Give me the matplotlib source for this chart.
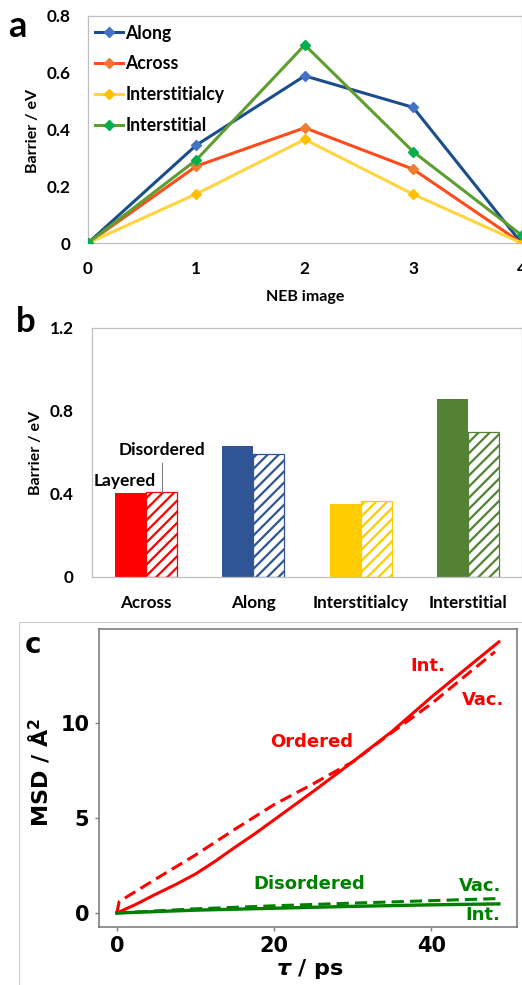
import matplotlib
matplotlib.use("Agg")
import matplotlib.pyplot as plt
from matplotlib.lines import Line2D

# ---------------- data ----------------
# panel a : NEB profiles
neb_images = [0, 1, 2, 3, 4]
neb_along = [0.0, 0.345, 0.589, 0.478, 0.0]
neb_across = [0.0, 0.271, 0.406, 0.260, 0.0]
neb_interstitialcy = [0.0, 0.173, 0.365, 0.172, 0.0]
neb_interstitial = [0.0, 0.293, 0.698, 0.322, 0.028]
neb_names = ["Along", "Across", "Interstitialcy", "Interstitial"]

# panel b : barriers
bar_categories = ["Across", "Along", "Interstitialcy", "Interstitial"]
bar_layered = [0.405, 0.631, 0.349, 0.859]
bar_disordered = [0.409, 0.594, 0.367, 0.700]

# panel c : MSD curves
t_ord_int = [0, 2.5, 5, 7.5, 10, 12.5, 15, 17.5, 20, 25, 30, 35, 40, 45, 48.6]
msd_ord_int = [0.0, 0.47, 1.0, 1.5, 2.05, 2.72, 3.45, 4.15, 4.9, 6.4, 7.95, 9.55, 11.35, 13.05, 14.26]
t_ord_vac = [0, 0.3, 5, 10, 15, 20, 25, 30, 35, 40, 45, 48.1]
msd_ord_vac = [0.0, 0.6, 1.8, 3.05, 4.4, 5.7, 6.8, 7.95, 9.5, 11.0, 12.7, 13.74]
t_dis_int = [0, 10, 20, 30, 40, 48.6]
msd_dis_int = [0.0, 0.15, 0.25, 0.35, 0.43, 0.48]
t_dis_vac = [0, 10, 20, 30, 40, 48.5]
msd_dis_vac = [0.0, 0.22, 0.38, 0.52, 0.65, 0.76]

# ---------------- figure ----------------
W, H = 522, 985
plt.rcParams['mathtext.fontset'] = 'dejavusans'
fig = plt.figure(figsize=(W / 100, H / 100), dpi=100)
FA = ['Lato', 'DejaVu Sans']
WT = 'bold'

def fx(px):
    return px / W

def fy(py):
    return (H - py) / H

def axes_px(l, t, r, b):
    return fig.add_axes([fx(l), fy(b), (r - l) / W, (b - t) / H])

# ---------- panel a ----------
axa = axes_px(88, 16, 521.5, 243)
line_cols = ['#1A4E8A', '#FF4C1A', '#FFD43F', '#5E9E2E']
mark_cols = ['#4472C4', '#ED7D31', '#FFC000', '#00B050']
series = [neb_along, neb_across, neb_interstitialcy, neb_interstitial]
for name, vals, lc, mc in zip(neb_names, series, line_cols, mark_cols):
    axa.plot(neb_images, vals, color=lc, lw=2.2, marker='D', ms=5,
             mfc=mc, mec=mc, label=name, zorder=3)
axa.set_xlim(0, 4)
axa.set_ylim(0, 0.8)
axa.set_xticks([0, 1, 2, 3, 4])
axa.set_xticklabels(['0', '1', '2', '3', '4'])
axa.set_yticks([0, 0.2, 0.4, 0.6, 0.8])
axa.set_yticklabels(['0', '0.2', '0.4', '0.6', '0.8'])
for s in axa.spines.values():
    s.set_color('#BFBFBF')
    s.set_linewidth(0.9)
axa.tick_params(axis='x', length=0, pad=13)
axa.tick_params(axis='y', length=0, pad=12.5)
for lab in axa.get_xticklabels() + axa.get_yticklabels():
    lab.set_family(FA)
    lab.set_fontweight(WT)
    lab.set_fontsize(12.3)
leg = axa.legend(loc='upper left', bbox_to_anchor=((95 - 88) / 433.5, (243 - 24.5) / 227),
                 frameon=False, borderpad=0, borderaxespad=0, numpoints=1,
                 handlelength=1.6, handletextpad=0.12, labelspacing=0.78,
                 prop={'family': FA, 'weight': WT, 'size': 12.7})
fig.text(fx(33.3), fy(131), 'Barrier / eV', rotation=90, ha='center', va='center',
         family=FA, fontweight=WT, fontsize=11.5)
fig.text(fx(305), fy(301), 'NEB image', ha='center', va='baseline',
         family=FA, fontweight=WT, fontsize=11.5)
fig.text(fx(17.5), fy(36.7), 'a', ha='center', va='baseline',
         family=FA, fontweight=WT, fontsize=26)

# ---------- panel b ----------
axb = axes_px(92, 328, 522, 576.7)
bar_cols = ['#FF0000', '#2F5597', '#FFCC00', '#548235']
plt.rcParams['hatch.linewidth'] = 1.6
xs = list(range(len(bar_categories)))
bw = 0.288
axb.bar([x - bw / 2 for x in xs], bar_layered, width=bw, color=bar_cols,
        edgecolor='none', zorder=2)
for x, v, c in zip(xs, bar_disordered, bar_cols):
    axb.bar(x + bw / 2, v, width=bw, color='white', edgecolor=c, hatch='///',
            linewidth=0.9, zorder=2)
axb.set_xlim(-0.5, 3.5)
axb.set_ylim(0, 1.2)
axb.set_xticks(xs)
axb.set_xticklabels(bar_categories)
axb.set_yticks([0, 0.4, 0.8, 1.2])
axb.set_yticklabels(['0', '0.4', '0.8', '1.2'])
for s in axb.spines.values():
    s.set_color('#BFBFBF')
    s.set_linewidth(0.9)
axb.tick_params(axis='x', length=0, pad=13)
axb.tick_params(axis='y', length=0, pad=13)
for lab in axb.get_xticklabels() + axb.get_yticklabels():
    lab.set_family(FA)
    lab.set_fontweight(WT)
    lab.set_fontsize(12.3)
axb.text(-0.193, 0.462, 'Layered', ha='center', va='center',
         family=FA, fontweight=WT, fontsize=12.5)
axb.text(0.147, 0.611, 'Disordered', ha='center', va='center',
         family=FA, fontweight=WT, fontsize=12.5)
axb.plot([0.148, 0.148], [0.409, 0.549], color='#7F7F7F', lw=0.8, zorder=3)
fig.text(fx(36), fy(453.3), 'Barrier / eV', rotation=90, ha='center', va='center',
         family=FA, fontweight=WT, fontsize=11.5)
fig.text(fx(25.8), fy(331.7), 'b', ha='center', va='baseline',
         family=FA, fontweight=WT, fontsize=25)

# ---------- panel c ----------
# light frame around panel c
fig.add_artist(Line2D([fx(19.3), 1.0], [fy(621.7), fy(621.7)], color='#CCCCCC', lw=0.8))
fig.add_artist(Line2D([fx(19.3), fx(19.3)], [fy(621.7), 0.0], color='#CCCCCC', lw=0.8))

axc = axes_px(98.5, 629.3, 517, 926.7)
red, green = '#FF0000', '#008000'
axc.plot(t_ord_int, msd_ord_int, color=red, lw=2.2, zorder=3)
axc.plot(t_ord_vac, msd_ord_vac, color=red, lw=2.2, ls=(0, (4.0, 2.0)), zorder=3)
axc.plot(t_dis_int, msd_dis_int, color=green, lw=2.4, zorder=3)
axc.plot(t_dis_vac, msd_dis_vac, color=green, lw=2.2, ls=(0, (4.0, 2.0)), zorder=3)
axc.set_xlim(-2.33, 50.9)
axc.set_ylim(-0.72, 14.92)
axc.set_xticks([0, 20, 40])
axc.set_yticks([0, 5, 10])
for s in axc.spines.values():
    s.set_color('#7F7F7F')
    s.set_linewidth(1.2)
axc.tick_params(axis='both', direction='out', length=3.0, width=1.0, color='#7F7F7F',
                labelsize=15)
axc.tick_params(axis='x', pad=3.5)
axc.tick_params(axis='y', pad=3.5)
for lab in axc.get_xticklabels() + axc.get_yticklabels():
    lab.set_family('DejaVu Sans')
    lab.set_fontweight('bold')
tkw = dict(ha='center', va='center', family='DejaVu Sans', fontweight='bold', fontsize=13)
axc.text(39.5, 12.98, 'Int.', color=red, **tkw)
axc.text(46.6, 11.2, 'Vac.', color=red, **tkw)
axc.text(24.8, 9.0, 'Ordered', color=red, **tkw)
axc.text(24.5, 1.51, 'Disordered', color=green, **tkw)
axc.text(46.2, 1.44, 'Vac.', color=green, **tkw)
axc.text(46.6, -0.12, 'Int.', color=green, **tkw)
fig.text(fx(39), fy(772.5), r'MSD / $\mathbf{\AA^2}$', rotation=90, ha='center',
         va='center', family='DejaVu Sans', fontweight='bold', fontsize=16)
fig.text(fx(310), fy(969), r'$\mathbfit{\tau}$ / ps', ha='center', va='center',
         family='DejaVu Sans', fontweight='bold', fontsize=16)
fig.text(fx(32.5), fy(653.3), 'c', ha='center', va='baseline',
         family='DejaVu Sans', fontweight='bold', fontsize=20)

fig.savefig('out.png', dpi=100)
